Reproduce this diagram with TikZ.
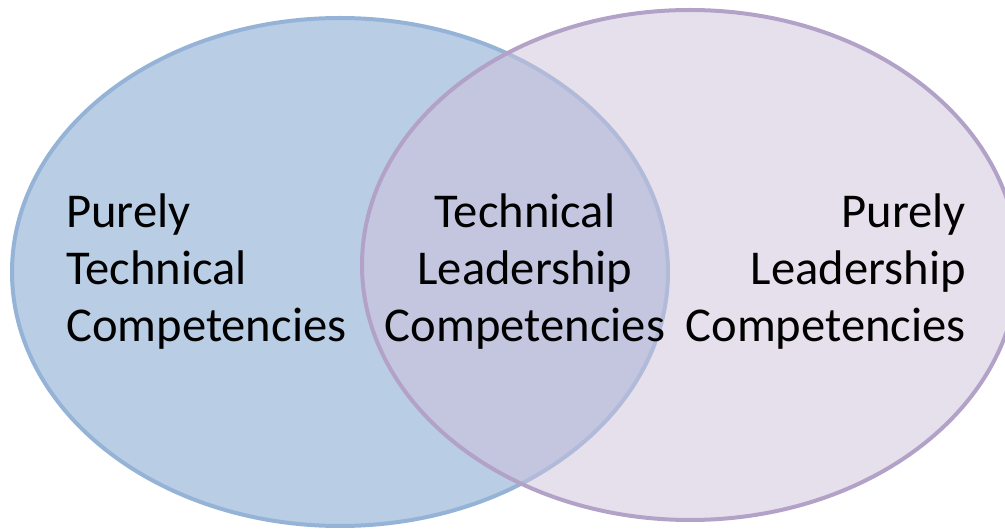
\documentclass[tikz,border=0pt]{standalone}
\usepackage{fontspec}
\setmainfont{Carlito}
\definecolor{techfill}{RGB}{185,205,229}
\definecolor{techline}{RGB}{149,179,215}
\definecolor{leadfill}{RGB}{205,193,217}
\definecolor{leadline}{RGB}{179,162,199}
\begin{document}
\begin{tikzpicture}[x=1pt,y=-1pt,
  setlabel/.style={font=\fontsize{48.6}{57}\selectfont, inner sep=0pt, text=black},
  techset/.style={fill=techfill, draw=techline, line width=4pt},
  leadset/.style={fill=leadfill, fill opacity=0.5, draw=leadline, line width=4pt}]
  \useasboundingbox (0,0) rectangle (1005,529);
  \clip (0,0) rectangle (1005,529);
  % the two overlapping competency sets
  \path[techset] (340,272) ellipse [x radius=328, y radius=254];
  \path[leadset] (690,265) ellipse [x radius=328, y radius=255];
  % set labels
  \node[setlabel, align=left, anchor=west] (tech) at (66,272)
    {Purely\\Technical\\Competencies};
  \node[setlabel, align=center] (both) at (525,272)
    {Technical\\Leadership\\Competencies};
  \node[setlabel, align=right, anchor=east] (lead) at (966,272)
    {Purely\\Leadership\\Competencies};
\end{tikzpicture}
\end{document}
